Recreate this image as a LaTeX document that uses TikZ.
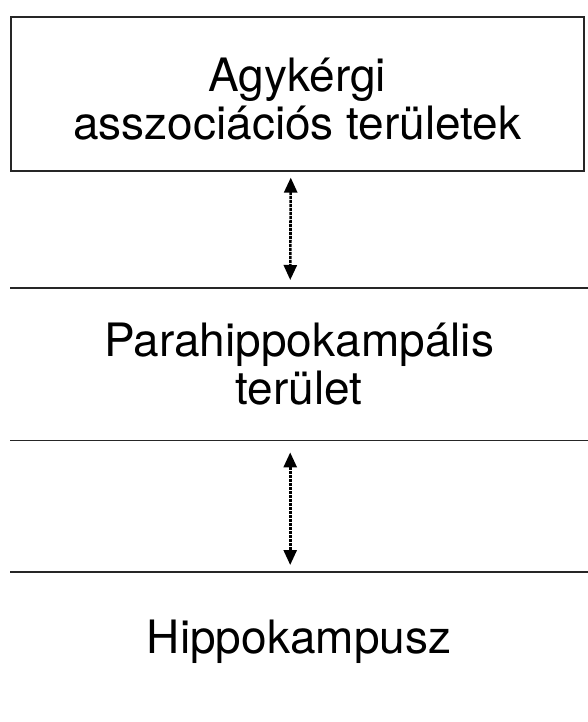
\documentclass[tikz,border=0pt]{standalone}
\usepackage{fontspec}
\setmainfont{TeX Gyre Heros}
\usetikzlibrary{arrows.meta}
\begin{document}
\begin{tikzpicture}[x=1pt,y=-1pt,
  region/.style={minimum width=573pt,inner sep=0pt,align=center,font=\fontsize{46}{48}\selectfont},
  rule/.style={line width=1.6pt,black!85},
  link/.style={line width=2.6pt,dash pattern=on 3pt off 1pt,{Triangle[length=15pt,width=13pt]}-{Triangle[length=15pt,width=13pt]}}]
\useasboundingbox (0,0) rectangle (588,722);
\node[region,draw,line width=1.6pt,black!85,text=black,minimum height=154pt,anchor=north west] (top) at (10,16) {};
\node[region] (toptext) at ([yshift=-5pt]top.center) {Agykérgi\\asszociációs területek};
\node[region,minimum width=578pt,minimum height=152pt,anchor=north west] (mid) at (10,288) {Parahippokampális\\terület};
\node[region,minimum width=578pt,minimum height=150pt,anchor=north west] (bot) at (10,572) {};
\node[region] (bottext) at ([yshift=5pt]bot.center) {Hippokampusz};
\draw[rule] (mid.north west) -- (mid.north east);
\draw[rule] (mid.south west) -- (mid.south east);
\draw[rule] (bot.north west) -- (bot.north east);
\draw[link,shorten <=6pt,shorten >=8pt] ([xshift=-6.5pt]top.south) -- ([xshift=-9pt]mid.north);
\draw[link,shorten <=12pt,shorten >=7pt] ([xshift=-9pt]mid.south) -- ([xshift=-9pt]bot.north);
\end{tikzpicture}
\end{document}
